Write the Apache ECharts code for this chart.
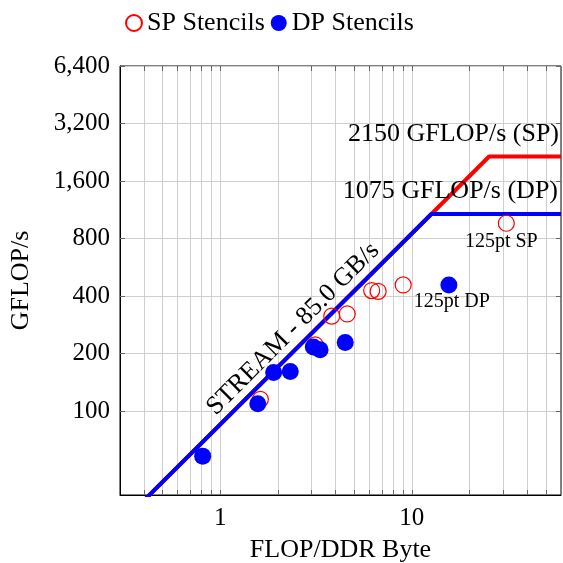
<!DOCTYPE html>
<html><head><meta charset="utf-8">
<script src="https://cdn.jsdelivr.net/npm/echarts@6/dist/echarts.min.js"></script>
<style>html,body{margin:0;padding:0;background:#fff}#c{width:563px;height:563px}</style>
</head><body><div id="c"></div>
<script>
// ---- data ----
const spX = [1.62, 3.13, 3.82, 4.60, 6.17, 6.67, 9.01, 31.1];
const spY = [115, 222, 314, 322, 427, 423, 457, 961];
const spNotes = ['', '', '', '', '', '', '', '125pt SP'];
const dpX = [0.81, 1.57, 1.90, 2.32, 3.06, 3.32, 4.49, 15.6];
const dpY = [58, 109, 159, 161, 216, 209, 228, 457];
const dpNotes = ['', '', '', '', '', '', '', '125pt DP'];
const bandwidth = 85.0;           // GB/s
const peakSP = 2150, peakDP = 1075; // GFLOP/s
const xMin = 0.3, xMax = 60, yMin = 36.3, yMax = 6400;
const yTickValues = [100, 200, 400, 800, 1600, 3200, 6400];
const xLabelValues = [1, 10];
const xGridValues = [0.4,0.5,0.6,0.7,0.8,0.9,1,2,3,4,5,6,7,8,9,10,20,30,40,50];

const FONT = 'Liberation Serif';
const fmtNum = v => String(Math.round(v)).replace(/\B(?=(\d{3})+(?!\d))/g, ',');

function roof(peak) {
  return [[xMin, bandwidth * xMin], [peak / bandwidth, peak], [xMax, peak]];
}
function pts(xs, ys, notes, off) {
  return xs.map((x, i) => {
    const d = { value: [x, ys[i]] };
    if (notes[i]) d.label = { show: true, formatter: notes[i], position: 'inside', offset: off, fontSize: 20, color: '#000', fontFamily: FONT };
    return d;
  });
}

const tickStyle = { show: true, inside: true, length: 5, lineStyle: { color: '#666', width: 1 } };
const chart = echarts.init(document.getElementById('c'));
chart.setOption({
  animation: false,
  textStyle: { fontFamily: FONT, color: '#000' },
  legend: {
    data: [{ name: 'SP Stencils', icon: 'circle' }, { name: 'DP Stencils', icon: 'circle' }],
    left: 120, top: 5, itemWidth: 16, itemHeight: 16, itemGap: 6,
    textStyle: { fontSize: 26, fontFamily: FONT, color: '#000', padding: [0, 0, 0, 0] }
  },
  grid: { left: 120, right: 2, top: 66, bottom: 68, show: true, borderColor: '#000', borderWidth: 1, outerBoundsMode: 'none', containLabel: false },
  xAxis: [{
    type: 'log', min: xMin, max: xMax,
    name: 'FLOP/DDR Byte', nameLocation: 'middle', nameGap: 42,
    nameTextStyle: { fontSize: 26, fontFamily: FONT, color: '#000' },
    axisLine: { show: true, lineStyle: { color: '#000' } },
    axisTick: Object.assign({ customValues: xGridValues }, tickStyle),
    axisLabel: { customValues: xLabelValues, fontSize: 25, margin: 11, color: '#000', fontFamily: FONT },
    splitLine: { show: true, lineStyle: { color: '#cfcfcf', width: 1 } },
    minorTick: { show: false }, minorSplitLine: { show: false }
  }, {
    type: 'log', min: xMin, max: xMax, position: 'top',
    axisLine: { show: false },
    axisTick: Object.assign({ customValues: xGridValues }, tickStyle),
    axisLabel: { show: false }, splitLine: { show: false }
  }],
  yAxis: [{
    type: 'log', logBase: 2, min: yMin, max: yMax,
    name: 'GFLOP/s', nameLocation: 'middle', nameGap: 86,
    nameTextStyle: { fontSize: 26, fontFamily: FONT, color: '#000' },
    axisLine: { show: true, lineStyle: { color: '#000' } },
    axisTick: Object.assign({ customValues: yTickValues }, tickStyle),
    axisLabel: { customValues: yTickValues, formatter: fmtNum, fontSize: 25, margin: 10, color: '#000', fontFamily: FONT },
    splitLine: { show: true, lineStyle: { color: '#cfcfcf', width: 1 } }
  }, {
    type: 'log', logBase: 2, min: yMin, max: yMax, position: 'right',
    axisLine: { show: false },
    axisTick: Object.assign({ customValues: yTickValues }, tickStyle),
    axisLabel: { show: false }, splitLine: { show: false }
  }],
  series: [
    {
      name: 'SP roof', type: 'line', data: roof(peakSP), symbol: 'none', clip: true, z: 3,
      lineStyle: { color: '#ff0000', width: 4 },
      markPoint: {
        symbol: 'circle', symbolSize: 0, silent: true,
        data: [{ coord: [xMax, peakSP], label: { show: true, formatter: '2150 GFLOP/s (SP)', position: 'inside', align: 'right', verticalAlign: 'middle', offset: [-2, -22], fontSize: 26, color: '#000', fontFamily: FONT } }]
      }
    },
    {
      name: 'DP roof', type: 'line', data: roof(peakDP), symbol: 'none', clip: true, z: 4,
      lineStyle: { color: '#0000ff', width: 4 },
      markPoint: {
        symbol: 'circle', symbolSize: 0, silent: true,
        data: [
          { coord: [xMax, peakDP], label: { show: true, formatter: '1075 GFLOP/s (DP)', position: 'inside', align: 'right', verticalAlign: 'middle', offset: [-3, -23], fontSize: 26, color: '#000', fontFamily: FONT } },
          { coord: [2.40, 269], label: { show: true, formatter: 'STREAM - 85.0 GB/s', position: 'inside', rotate: 45, fontSize: 26, color: '#000', fontFamily: FONT } }
        ]
      }
    },
    {
      name: 'SP Stencils', type: 'scatter', symbol: 'circle', symbolSize: 16, z: 5,
      itemStyle: { color: 'rgba(255,255,255,0)', borderColor: '#ff0000', borderWidth: 1.2, opacity: 1 },
      data: pts(spX, spY, spNotes, [-5, 18])
    },
    {
      name: 'DP Stencils', type: 'scatter', symbol: 'circle', symbolSize: 17, z: 6,
      itemStyle: { color: '#0000ff', opacity: 1 },
      data: pts(dpX, dpY, dpNotes, [3, 17])
    }
  ]
});
</script></body></html>
